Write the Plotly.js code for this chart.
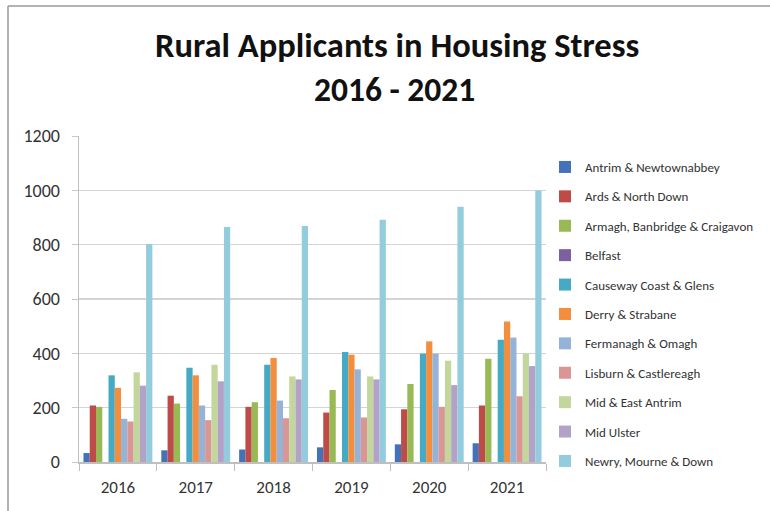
<!DOCTYPE html>
<html>
<head>
<meta charset="utf-8">
<script src="https://cdn.plot.ly/plotly-3.0.1.min.js"></script>
<style>
  html, body { margin: 0; padding: 0; background: #ffffff; }
  #chart { width: 770px; height: 511px; }
</style>
</head>
<body>
<div id="chart"></div>
<script>
// ---- data ----
const years = ["2016", "2017", "2018", "2019", "2020", "2021"];

const councils = [
  "Antrim & Newtownabbey",
  "Ards & North Down",
  "Armagh, Banbridge & Craigavon",
  "Belfast",
  "Causeway Coast & Glens",
  "Derry & Strabane",
  "Fermanagh & Omagh",
  "Lisburn & Castlereagh",
  "Mid & East Antrim",
  "Mid Ulster",
  "Newry, Mourne & Down"
];

const antrimNewtownabbey   = [33, 43, 46, 54, 65, 69];
const ardsNorthDown        = [208, 244, 203, 182, 194, 208];
const armaghBanbridgeCraig = [203, 215, 220, 265, 287, 380];
const belfast              = [0, 0, 0, 0, 0, 0];
const causewayCoastGlens   = [319, 347, 358, 405, 399, 450];
const derryStrabane        = [273, 319, 383, 395, 444, 517];
const fermanaghOmagh       = [159, 208, 226, 341, 399, 458];
const lisburnCastlereagh   = [149, 154, 161, 164, 203, 242];
const midEastAntrim        = [330, 358, 315, 315, 373, 399];
const midUlster            = [281, 297, 304, 304, 283, 353];
const newryMourneDown      = [802, 865, 869, 892, 940, 999];

const seriesValues = [
  antrimNewtownabbey, ardsNorthDown, armaghBanbridgeCraig, belfast,
  causewayCoastGlens, derryStrabane, fermanaghOmagh, lisburnCastlereagh,
  midEastAntrim, midUlster, newryMourneDown
];

const yTickValues = [0, 200, 400, 600, 800, 1000, 1200];
const titleLine1 = "Rural Applicants in Housing Stress";
const titleLine2 = "2016 - 2021";

// ---- styling ----
const colors = [
  "#4472B8", "#BE4B48", "#98B954", "#7D60A0", "#46AAC5", "#F38E3F",
  "#95B3D7", "#D99694", "#C3D69B", "#B3A2C7", "#93CDDD"
];
const FONT = "Carlito, Lato, 'Open Sans', sans-serif";

// plot area in pixels: x 79..546, y 136..462
const L = 79, R = 546, T = 136, B = 462;
const px2x = p => (p - L) / (R - L);
const py2y = p => (B - p) / (B - T);

const traces = councils.map((name, i) => ({
  type: "bar",
  name: name,
  x: years,
  y: seriesValues[i],
  legendgroup: "g" + i,
  marker: { color: colors[i], line: { width: 0 } },
  hoverinfo: "x+y+name"
}));

const layout = {
  width: 770,
  height: 511,
  margin: { l: L, r: 770 - R, t: T, b: 511 - B, pad: 0, autoexpand: false },
  paper_bgcolor: "#ffffff",
  plot_bgcolor: "#ffffff",
  barmode: "group",
  bargap: 0.115,
  bargroupgap: 0,
  font: { family: FONT, color: "#333333" },
  xaxis: {
    type: "category",
    tickson: "boundaries",
    ticks: "outside",
    ticklen: 7,
    tickcolor: "#bfbfbf",
    tickwidth: 1,
    showline: true,
    linecolor: "#bfbfbf",
    linewidth: 1.5,
    showgrid: false,
    tickfont: { family: FONT, size: 17, color: "#333333" },
    ticklabelstandoff: 9,
    fixedrange: true
  },
  yaxis: {
    range: [0, 1200],
    tickvals: yTickValues,
    ticktext: yTickValues.map(String),
    ticks: "outside",
    ticklen: 6,
    tickcolor: "#c8c8c8",
    showline: true,
    linecolor: "#bfbfbf",
    linewidth: 1.5,
    showgrid: true,
    gridcolor: "#d4d4d4",
    gridwidth: 1.5,
    zeroline: false,
    tickfont: { family: FONT, size: 18, color: "#333333" },
    ticklabelstandoff: 8,
    fixedrange: true
  },
  legend: {
    x: px2x(545),
    xanchor: "left",
    y: py2y(152),
    yanchor: "top",
    font: { family: FONT, size: 13, color: "#333333" },
    tracegroupgap: 9.5,
    itemwidth: 30,
    maxheight: 500,
    bgcolor: "rgba(0,0,0,0)",
    borderwidth: 0
  },
  annotations: [
    {
      text: "<b>" + titleLine1 + "</b>",
      xref: "paper", yref: "paper",
      x: px2x(397), y: py2y(45),
      xanchor: "center", yanchor: "middle",
      showarrow: false,
      font: { family: FONT, size: 34.5, color: "#111111" }
    },
    {
      text: "<b>" + titleLine2 + "</b>",
      xref: "paper", yref: "paper",
      x: px2x(394), y: py2y(90),
      xanchor: "center", yanchor: "middle",
      showarrow: false,
      font: { family: FONT, size: 33.5, color: "#111111" }
    }
  ],
  shapes: [
    { type: "line", xref: "paper", yref: "paper",
      x0: px2x(8), x1: px2x(8), y0: py2y(6), y1: py2y(520),
      line: { color: "#9a9a9a", width: 1.5 } },
    { type: "line", xref: "paper", yref: "paper",
      x0: px2x(8), x1: px2x(790), y0: py2y(6), y1: py2y(6),
      line: { color: "#9a9a9a", width: 1.5 } }
  ],
  showlegend: true
};

Plotly.newPlot("chart", traces, layout, { displayModeBar: false, staticPlot: true });
</script>
</body>
</html>
